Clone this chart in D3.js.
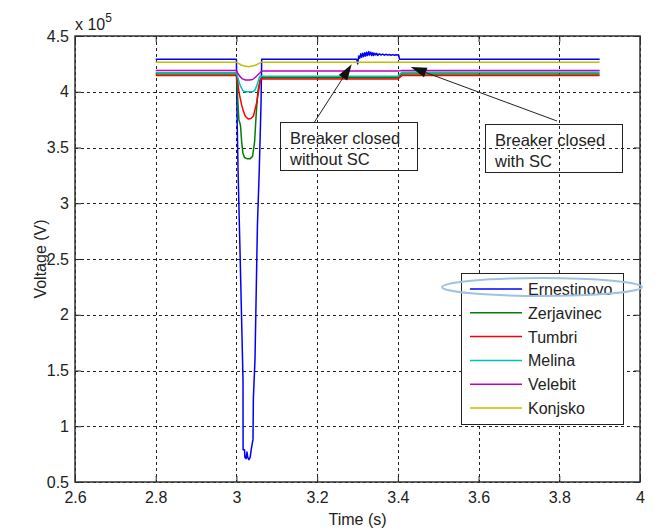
<!DOCTYPE html>
<html>
<head>
<meta charset="utf-8">
<script src="https://cdn.jsdelivr.net/npm/d3@7"></script>
<style>
  body { margin: 0; background: #fff; }
  svg { display: block; font-family: "Liberation Sans", Arial, sans-serif; }
</style>
</head>
<body>
<svg id="chart" width="662" height="531"></svg>
<script>
// Axis ticks
const xTicks = [2.6, 2.8, 3.0, 3.2, 3.4, 3.6, 3.8, 4.0];
const yTicks = [0.5, 1.0, 1.5, 2.0, 2.5, 3.0, 3.5, 4.0, 4.5];

// Station names and line colours
const stations = ["Ernestinovo", "Zerjavinec", "Tumbri", "Melina", "Velebit", "Konjsko"];
const colors = ["#0000ff", "#008000", "#ff0000", "#00bfbf", "#bf00bf", "#bfbf00"];

// Bus voltages: [time (s), voltage (x 10^5 V)]
const ernestinovo = [
  [2.8, 4.292], [3.0, 4.292], [3.0015, 3.8], [3.004, 3.3], [3.010, 2.4], [3.0163, 1.42],
  [3.0165, 0.79], [3.020, 0.79], [3.021, 0.72], [3.024, 0.71], [3.026, 0.77], [3.028, 0.72],
  [3.031, 0.70], [3.034, 0.72], [3.037, 0.80], [3.041, 0.88], [3.042, 1.25], [3.046, 1.6],
  [3.052, 2.8], [3.0566, 3.3], [3.061, 3.9], [3.0626, 4.292], [3.298, 4.292], [3.3005, 4.25],
  [3.303, 4.32], [3.3054, 4.30], [3.308, 4.34], [3.3104, 4.31], [3.313, 4.345], [3.3154, 4.315],
  [3.318, 4.35], [3.3203, 4.32], [3.3228, 4.355], [3.325, 4.325], [3.328, 4.36], [3.330, 4.33],
  [3.333, 4.355], [3.3352, 4.325], [3.338, 4.35], [3.340, 4.325], [3.3426, 4.345], [3.345, 4.33],
  [3.3476, 4.345], [3.350, 4.325], [3.3542, 4.34], [3.358, 4.33], [3.3625, 4.338], [3.3666, 4.328],
  [3.371, 4.336], [3.375, 4.328], [3.379, 4.334], [3.3832, 4.328], [3.3873, 4.333], [3.3914, 4.328],
  [3.3956, 4.332], [3.3997, 4.33], [3.402, 4.33], [3.404, 4.292], [3.9, 4.292]
];
const zerjavinec = [
  [2.8, 4.16], [3.0, 4.16], [3.003, 3.95], [3.006, 3.75], [3.010, 3.70], [3.013, 3.55],
  [3.016, 3.45], [3.020, 3.41], [3.026, 3.40], [3.034, 3.40], [3.040, 3.42], [3.045, 3.55],
  [3.049, 3.8], [3.053, 4.0], [3.058, 4.1], [3.062, 4.125], [3.400, 4.125], [3.410, 4.16], [3.9, 4.16]
];
const tumbri = [
  [2.8, 4.145], [3.0, 4.145], [3.003, 4.10], [3.006, 4.0], [3.009, 3.95], [3.013, 3.88],
  [3.017, 3.83], [3.022, 3.78], [3.029, 3.755], [3.036, 3.76], [3.042, 3.78], [3.046, 3.84],
  [3.050, 3.90], [3.054, 3.98], [3.057, 4.05], [3.060, 4.115], [3.400, 4.115], [3.410, 4.145], [3.9, 4.145]
];
const melina = [
  [2.8, 4.17], [3.0, 4.17], [3.004, 4.12], [3.010, 4.05], [3.016, 4.01], [3.021, 4.0],
  [3.040, 4.0], [3.045, 4.01], [3.050, 4.05], [3.056, 4.12], [3.058, 4.14], [3.400, 4.14],
  [3.410, 4.175], [3.9, 4.175]
];
const velebit = [
  [2.8, 4.19], [3.0, 4.19], [3.003, 4.17], [3.008, 4.14], [3.015, 4.115], [3.022, 4.105],
  [3.032, 4.105], [3.040, 4.11], [3.047, 4.13], [3.054, 4.155], [3.060, 4.175], [3.064, 4.185],
  [3.400, 4.185], [3.410, 4.19], [3.9, 4.19]
];
const konjsko = [
  [2.8, 4.265], [3.0, 4.265], [3.005, 4.255], [3.012, 4.24], [3.020, 4.23], [3.030, 4.225],
  [3.040, 4.23], [3.048, 4.24], [3.055, 4.252], [3.062, 4.265], [3.9, 4.265]
];
const seriesData = [ernestinovo, zerjavinec, tumbri, melina, velebit, konjsko];

// Layout
const plot = { left: 75, right: 640, top: 36, bottom: 482 };
const svg = d3.select("#chart");

const x = d3.scaleLinear().domain([2.6, 4.0]).range([plot.left, plot.right]);
const y = d3.scaleLinear().domain([0.5, 4.5]).range([plot.bottom, plot.top]);
const fmt = d => String(+d.toFixed(1));

// Grid
const grid = svg.append("g").attr("stroke", "#222").attr("stroke-width", 1)
  .attr("stroke-dasharray", "3,3").attr("shape-rendering", "crispEdges");
grid.selectAll("line.gx").data(xTicks).join("line").attr("class", "gx")
  .attr("x1", d => Math.round(x(d)) + 0.5).attr("x2", d => Math.round(x(d)) + 0.5)
  .attr("y1", plot.top).attr("y2", plot.bottom);
grid.selectAll("line.gy").data(yTicks).join("line").attr("class", "gy")
  .attr("y1", d => Math.round(y(d)) + 0.5).attr("y2", d => Math.round(y(d)) + 0.5)
  .attr("x1", plot.left).attr("x2", plot.right);

// Series lines (first drawn first)
const line = d3.line().x(d => x(d[0])).y(d => y(d[1]));
svg.append("g").selectAll("path").data(seriesData).join("path")
  .attr("d", line).attr("fill", "none")
  .attr("stroke", (d, i) => colors[i]).attr("stroke-width", 1.5)
  .attr("stroke-linejoin", "round");

// Axes with inward ticks, box on all sides
const axisStyle = g => {
  g.select(".domain").remove();
  g.selectAll(".tick line").attr("stroke", "#222").attr("stroke-width", 1);
  g.selectAll(".tick text").attr("fill", "#222").attr("font-size", 16)
    .attr("font-family", "Liberation Sans, Arial, sans-serif");
};
svg.append("g").attr("transform", `translate(0,${plot.bottom})`)
  .call(d3.axisBottom(x).tickValues(xTicks).tickFormat(fmt).tickSizeInner(-6).tickPadding(10))
  .call(axisStyle);
svg.append("g").attr("transform", `translate(0,${plot.top})`)
  .call(d3.axisTop(x).tickValues(xTicks).tickFormat("").tickSizeInner(-6))
  .call(axisStyle);
svg.append("g").attr("transform", `translate(${plot.left},0)`)
  .call(d3.axisLeft(y).tickValues(yTicks).tickFormat(fmt).tickSizeInner(-6).tickPadding(6))
  .call(axisStyle);
svg.append("g").attr("transform", `translate(${plot.right},0)`)
  .call(d3.axisRight(y).tickValues(yTicks).tickFormat("").tickSizeInner(-6))
  .call(axisStyle);

svg.append("rect")
  .attr("x", plot.left).attr("y", plot.top)
  .attr("width", plot.right - plot.left).attr("height", plot.bottom - plot.top)
  .attr("fill", "none").attr("stroke", "#333").attr("stroke-width", 1.5);

// Exponent label
const expo = svg.append("text").attr("x", plot.left).attr("y", 30)
  .attr("font-size", 16).attr("fill", "#222");
expo.append("tspan").text("x 10");
expo.append("tspan").attr("dy", -8).attr("font-size", 12).text("5");

// Axis titles
svg.append("text").attr("x", (plot.left + plot.right) / 2).attr("y", 525)
  .attr("text-anchor", "middle").attr("font-size", 16).attr("fill", "#222").text("Time (s)");
svg.append("text")
  .attr("transform", `translate(46,${(plot.top + plot.bottom) / 2}) rotate(-90)`)
  .attr("text-anchor", "middle").attr("font-size", 16).attr("fill", "#222").text("Voltage (V)");

// Annotations
const notes = [
  { box: [280, 122, 137, 48], lines: ["Breaker closed", "without SC"], from: [314.5, 122], to: [351.7, 64.3] },
  { box: [485, 124, 137, 48], lines: ["Breaker closed", "with SC"], from: [557, 121], to: [410.7, 67] }
];
notes.forEach(n => {
  const [bx, by, bw, bh] = n.box;
  svg.append("rect").attr("x", bx + 0.5).attr("y", by + 0.5).attr("width", bw).attr("height", bh)
    .attr("fill", "none").attr("stroke", "#222").attr("stroke-width", 1);
  n.lines.forEach((t, i) => {
    svg.append("text").attr("x", bx + 10).attr("y", by + 22 + i * 21)
      .attr("font-size", 16.5).attr("fill", "#222").text(t);
  });
  const [x0, y0] = n.from, [x1, y1] = n.to;
  const dx = x1 - x0, dy = y1 - y0, len = Math.hypot(dx, dy);
  const ux = dx / len, uy = dy / len, hl = 16, hw = 5;
  const bxh = x1 - ux * hl, byh = y1 - uy * hl;
  svg.append("line").attr("x1", x0).attr("y1", y0).attr("x2", bxh).attr("y2", byh)
    .attr("stroke", "#222").attr("stroke-width", 1);
  svg.append("path")
    .attr("d", `M${x1},${y1}L${bxh - uy * hw},${byh + ux * hw}L${bxh + uy * hw},${byh - ux * hw}Z`)
    .attr("fill", "#111");
});

// Legend
const lg = { x: 461, y: 273, w: 162, h: 151, row: 23.8 };
const legend = svg.append("g");
legend.append("rect").attr("x", lg.x + 0.5).attr("y", lg.y + 0.5).attr("width", lg.w).attr("height", lg.h)
  .attr("fill", "#fff").attr("stroke", "#222").attr("stroke-width", 1);
stations.forEach((name, i) => {
  const cy = lg.y + 16 + i * lg.row;
  legend.append("line").attr("x1", lg.x + 9).attr("x2", lg.x + 61)
    .attr("y1", cy).attr("y2", cy).attr("stroke", colors[i]).attr("stroke-width", 1.5);
  legend.append("text").attr("x", lg.x + 67).attr("y", cy + 6)
    .attr("font-size", 16).attr("fill", "#222").text(name);
});

// Highlight ring around the first legend entry
svg.append("ellipse").attr("cx", 542).attr("cy", 287).attr("rx", 100).attr("ry", 9)
  .attr("fill", "none").attr("stroke", "#9ec2e4").attr("stroke-width", 2);
</script>
</body>
</html>
